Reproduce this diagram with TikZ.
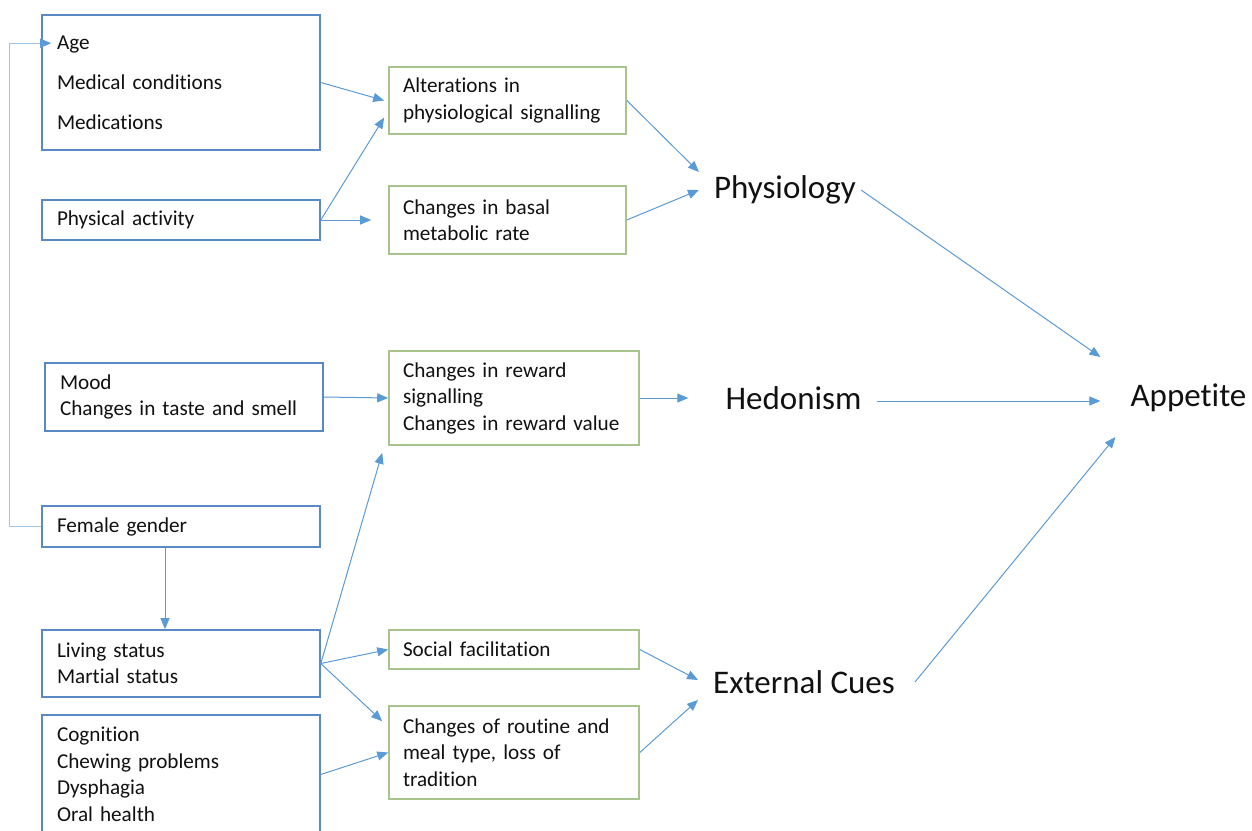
\documentclass[tikz,border=0pt]{standalone}
\usepackage{fontspec}
\setmainfont{Carlito}[Ligatures=NoCommon]
\usetikzlibrary{arrows.meta,positioning}
\definecolor{apBlue}{HTML}{5B9BD5}
\definecolor{apFrame}{HTML}{5A8AC4}
\definecolor{apGreen}{HTML}{A8C48C}
\definecolor{apLoop}{HTML}{9DC3E6}
\definecolor{apInk}{HTML}{111111}
\tikzset{
  apArrow/.style={-{Triangle[length=11pt,width=9pt]},line width=1pt,draw=apBlue},
  apLoopLine/.style={apArrow,draw=apLoop,line width=1.2pt,
    -{Triangle[length=11pt,width=9pt,color=apBlue]}},
  apFactor/.style={draw=apFrame,line width=1.6pt,fill=white,text=apInk,
    font=\fontsize{21.2}{26.5}\selectfont,align=left,inner xsep=15pt,
    inner ysep=0pt,text width=248pt},
  apChange/.style={apFactor,draw=apGreen,inner xsep=14pt},
  apDomain/.style={font=\fontsize{33}{38}\selectfont,text=apInk,
    inner xsep=15pt,inner ysep=0pt}
}
\begin{document}
\begin{tikzpicture}[x=1pt,y=-1pt]
\path[use as bounding box] (0,0) rectangle (1252,830);
\node[apFactor,minimum height=135pt] (age) at (181,82.5)
  {Age\\[13.5pt]Medical conditions\\[13.5pt]Medications};
\node[apFactor,minimum height=40pt] (activity) at (181,220)
  {Physical activity};
\node[apFactor,minimum height=68pt] (mood) at (184,397)
  {Mood\\Changes in taste and smell};
\node[apFactor,minimum height=41pt] (female) at (181,526.5)
  {Female gender};
\node[apFactor,minimum height=67pt] (living) at (181,663.5)
  {Living status\\Martial status};
\node[apFactor,minimum height=119pt] (cognition) at (181,774.5)
  {Cognition\\Chewing problems\\Dysphagia\\Oral health};
\node[apChange,text width=209pt,minimum height=67pt] (signal) at (507.5,100.5)
  {Alterations in\\physiological signalling};
\node[apChange,text width=209pt,minimum height=68pt] (basal) at (507.5,220)
  {Changes in basal\\metabolic rate};
\node[apChange,text width=222pt,minimum height=94pt] (reward) at (514,398)
  {Changes in reward\\signalling\\Changes in reward value};
\node[apChange,text width=222pt,minimum height=39pt] (social) at (514,649.5)
  {Social facilitation};
\node[apChange,text width=222pt,minimum height=93pt] (routine) at (514,752.5)
  {Changes of routine and\\meal type, loss of\\tradition};
\node[apDomain] (phys) at (785,190) {Physiology};
\node[apDomain] (hedon) at (793.5,398) {Hedonism};
\node[apDomain] (appetite) at (1188.5,398) {Appetite};
\node[apDomain] (cues) at (804,682) {External Cues};
\draw[apArrow] (age.east) -- ([xshift=-4pt]signal.west);
\draw[apArrow] (activity.east) -- ([xshift=-4pt,yshift=-17pt]signal.west);
\draw[apArrow] (activity.east) -- ([xshift=-17pt]basal.west);
\draw[apArrow] (signal.east) -- ([yshift=18pt]phys.west);
\draw[apArrow] (basal.east) -- (phys.west);
\draw[apArrow] ([xshift=-10pt]phys.east) -- ([xshift=-15pt,yshift=41pt]appetite.west);
\draw[apArrow] (mood.east) -- (reward.west);
\draw[apArrow] (reward.east) -- ([xshift=-22pt]hedon.west);
\draw[apArrow] ([yshift=-3pt]hedon.east) -- ([xshift=-15pt,yshift=-3pt]appetite.west);
\draw[apArrow] ([xshift=5pt]cues.east) -- ([yshift=-39pt]appetite.west);
\draw[apLoopLine] (female.west) -- ++(-32,0) |- ([xshift=10pt,yshift=-29pt]age.north west);
\draw[apArrow] ([xshift=-16pt]female.south) -- ([xshift=-16pt]living.north);
\draw[apArrow] (living.east) -- ([xshift=-6pt,yshift=-7pt]reward.south west);
\draw[apArrow] (living.east) -- (social.west);
\draw[apArrow] (living.east) -- ([xshift=-6pt,yshift=-16pt]routine.north west);
\draw[apArrow] (cognition.east) -- (routine.west);
\draw[apArrow] (social.east) -- ([yshift=2pt]cues.west);
\draw[apArrow] (routine.east) -- ([yshift=-18pt]cues.west);
\end{tikzpicture}
\end{document}
